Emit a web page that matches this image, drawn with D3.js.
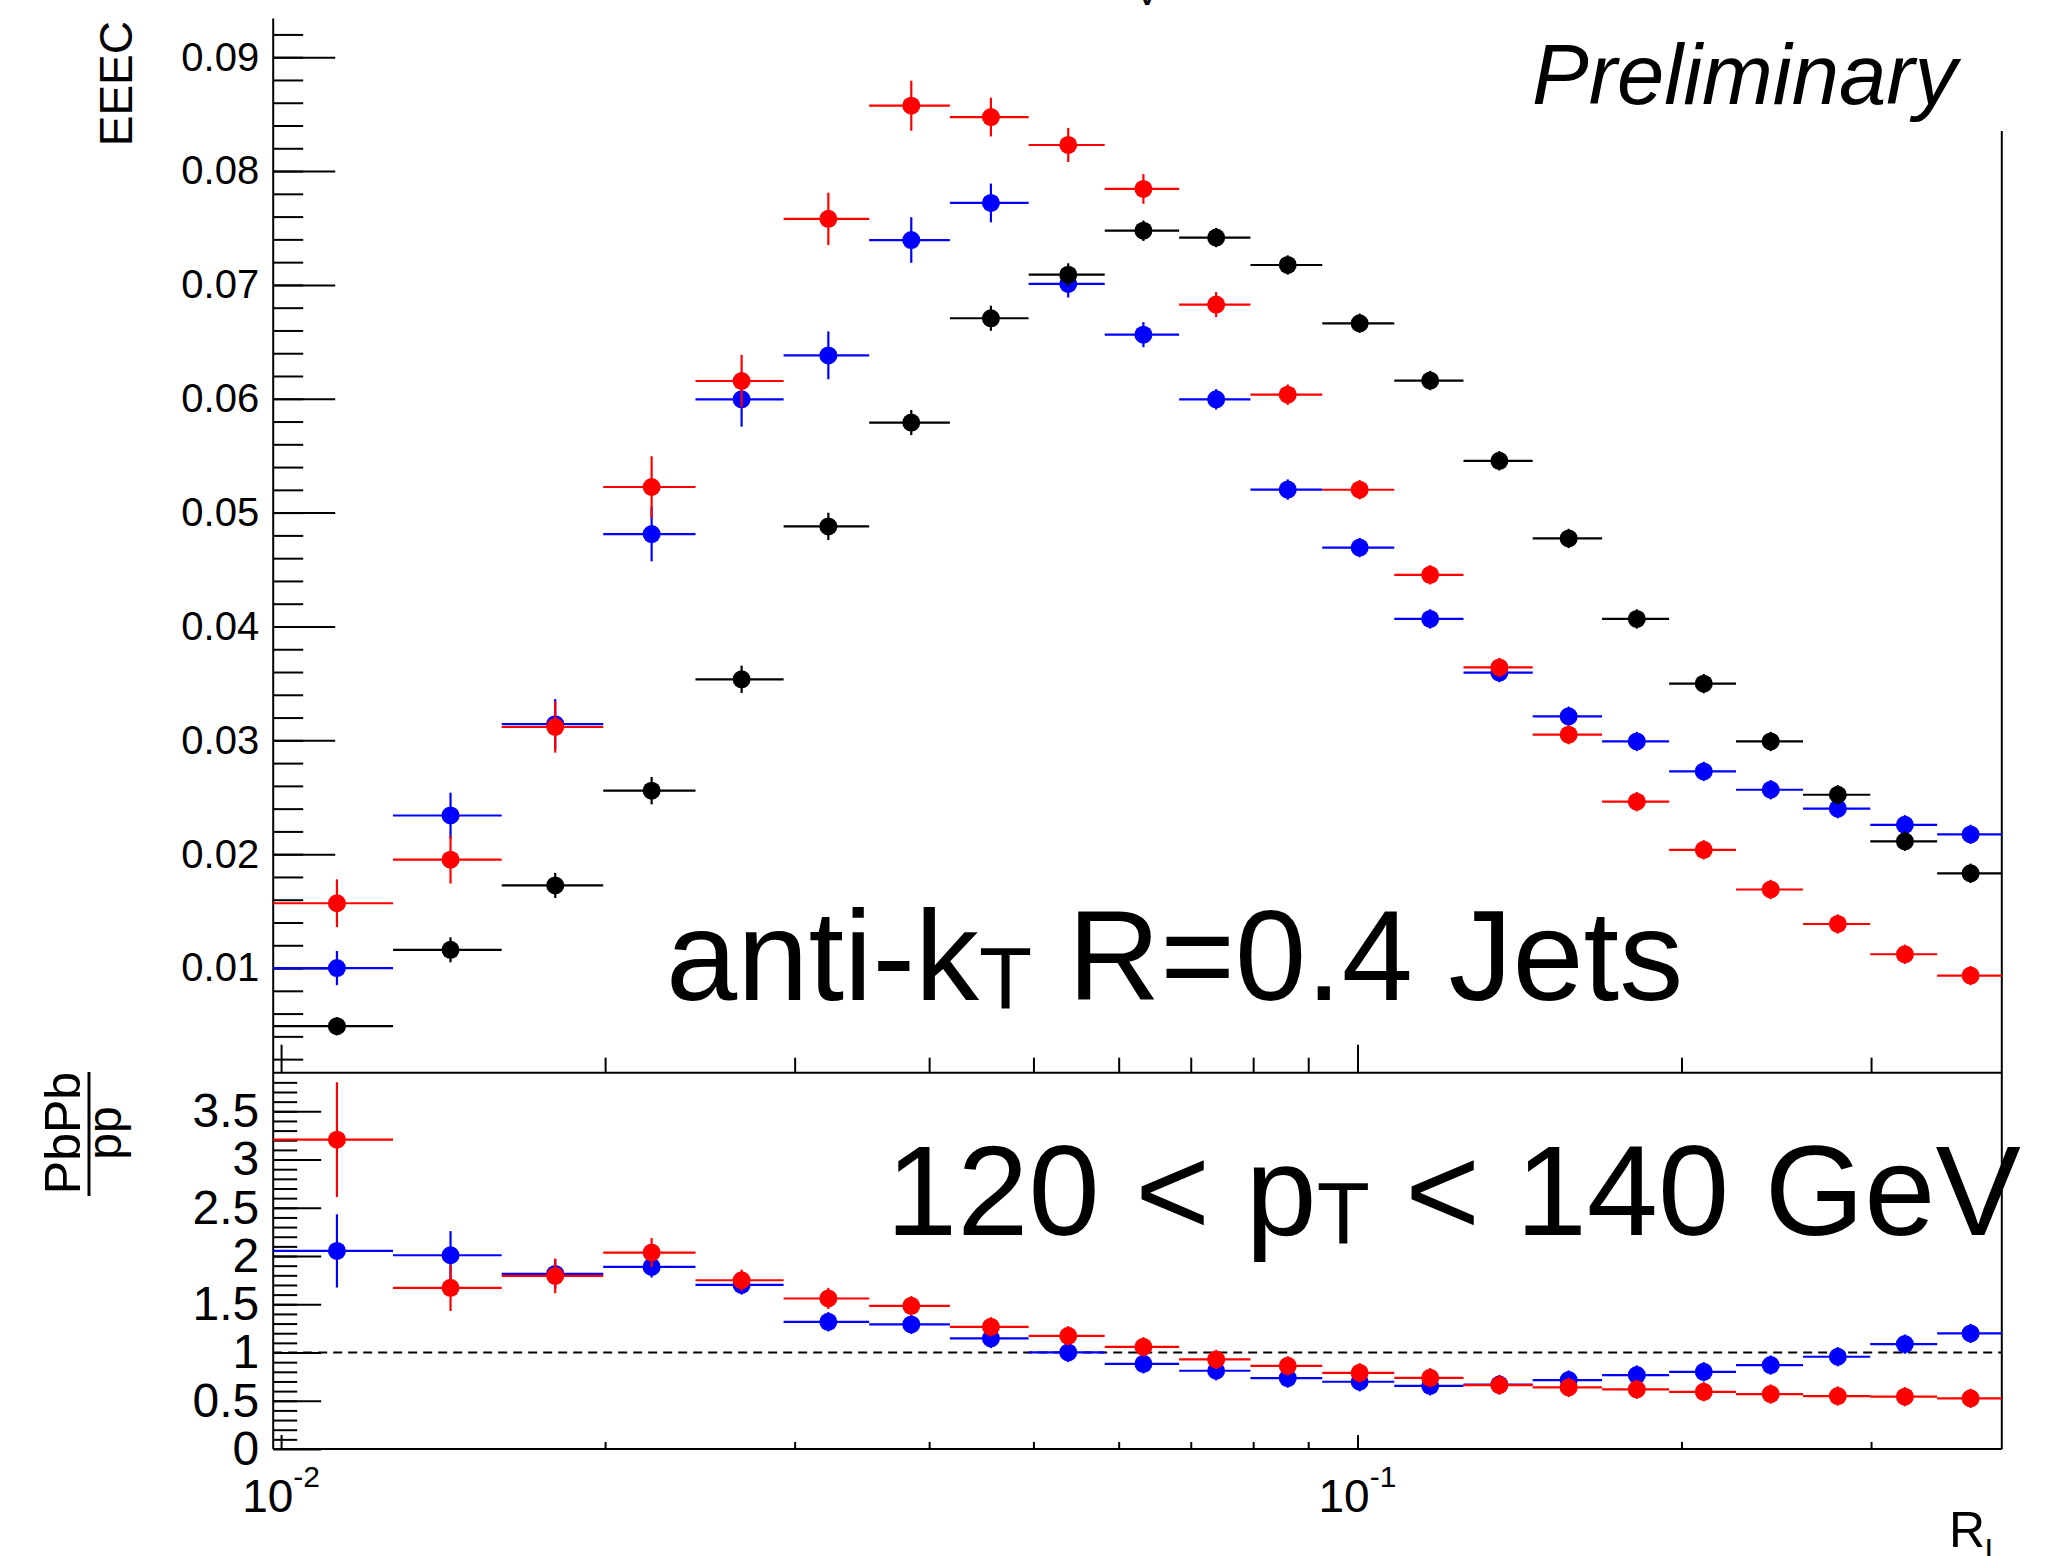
<!DOCTYPE html>
<html><head><meta charset="utf-8">
<script src="https://cdn.jsdelivr.net/npm/d3@7"></script>
<style>
body{margin:0;background:#fff}
svg{display:block}
text{font-family:"Liberation Sans",Arial,Helvetica,sans-serif;fill:#000}
</style>
</head><body>
<svg id="c" width="2064" height="1556"></svg>
<script>
// ---------------- DATA ----------------
const binEdges = [0.009833, 0.012706, 0.016032, 0.019920, 0.024266, 0.029300, 0.035185, 0.041816,
  0.049488, 0.058236, 0.068285, 0.079536, 0.092745, 0.10819, 0.12546, 0.14547, 0.16875, 0.19477,
  0.22472, 0.25937, 0.29949, 0.34557, 0.39682];

// EEEC, black series
const ppValues = [0.00489, 0.01160, 0.01726, 0.02558, 0.03536, 0.04879, 0.05791, 0.06707, 0.07090, 0.07476, 0.07416,
  0.07175, 0.06663, 0.06160, 0.05455, 0.04773, 0.04066, 0.03498, 0.02990, 0.02522, 0.02113, 0.01832];
const ppErrors = [0.0008, 0.0011, 0.0011, 0.0012, 0.0012, 0.0012, 0.0011, 0.0011, 0.0010, 0.0009, 0.00085,
  0.00085, 0.00085, 0.00085, 0.00085, 0.00085, 0.00085, 0.00085, 0.00085, 0.00085, 0.00085, 0.00085];
// EEEC, red series
const redValues = [0.01569, 0.01952, 0.03117, 0.05225, 0.06156, 0.07580, 0.08574, 0.08474, 0.08229, 0.07843, 0.06827,
  0.06036, 0.05201, 0.04454, 0.03640, 0.03050, 0.02461, 0.02038, 0.01690, 0.01387, 0.01121, 0.00934];
const redErrors = [0.0021, 0.0021, 0.00225, 0.0027, 0.0023, 0.0023, 0.0022, 0.0017, 0.0015, 0.0013, 0.0011,
  0.0009, 0.00085, 0.00085, 0.00085, 0.00085, 0.00085, 0.00085, 0.00085, 0.00085, 0.00085, 0.00085];
// EEEC, blue series
const blueValues = [0.01000, 0.02340, 0.03142, 0.04812, 0.05995, 0.06381, 0.07394, 0.07720, 0.07009, 0.06563, 0.05995,
  0.05202, 0.04693, 0.04066, 0.03595, 0.03211, 0.02990, 0.02727, 0.02566, 0.02400, 0.02258, 0.02174];
const blueErrors = [0.0015, 0.0020, 0.0022, 0.0024, 0.0024, 0.0021, 0.0020, 0.0017, 0.0012, 0.0011, 0.0009,
  0.0009, 0.00085, 0.00085, 0.00085, 0.00085, 0.00085, 0.00085, 0.00085, 0.00085, 0.00085, 0.00085];

// Ratio PbPb/pp
const ratioRed = [3.206, 1.670, 1.794, 2.036, 1.749, 1.560, 1.484, 1.266, 1.173, 1.059, 0.928,
  0.862, 0.790, 0.738, 0.663, 0.638, 0.618, 0.593, 0.569, 0.549, 0.542, 0.525];
const ratioRedErr = [0.595, 0.24, 0.18, 0.15, 0.11, 0.11, 0.10, 0.10, 0.10, 0.10, 0.10,
  0.10, 0.10, 0.10, 0.10, 0.10, 0.10, 0.10, 0.10, 0.10, 0.10, 0.10];
const ratioBlue = [2.053, 2.008, 1.815, 1.887, 1.700, 1.318, 1.291, 1.146, 1.001, 0.883, 0.811,
  0.735, 0.697, 0.655, 0.668, 0.714, 0.766, 0.800, 0.870, 0.956, 1.087, 1.198];
const ratioBlueErr = [0.38, 0.25, 0.15, 0.11, 0.10, 0.10, 0.10, 0.10, 0.10, 0.10, 0.10,
  0.10, 0.10, 0.10, 0.10, 0.10, 0.10, 0.10, 0.10, 0.10, 0.10, 0.10];

// Ticks
const eeecTickValues = [0.01, 0.02, 0.03, 0.04, 0.05, 0.06, 0.07, 0.08, 0.09];
const eeecTickLabels = ["0.01", "0.02", "0.03", "0.04", "0.05", "0.06", "0.07", "0.08", "0.09"];
const ratioTickValues = [0, 0.5, 1, 1.5, 2, 2.5, 3, 3.5];
const ratioTickLabels = ["0", "0.5", "1", "1.5", "2", "2.5", "3", "3.5"];
const xMajorTicks = [0.01, 0.1];
const xMajorBase = ["10", "10"];
const xMajorExp = ["-2", "-1"];
const xMinorTicks = [0.02, 0.03, 0.04, 0.05, 0.06, 0.07, 0.08, 0.09, 0.2, 0.3];

// ---------------- LAYOUT ----------------
const L = 273.2, R = 2001.8, topY = 18.6, midY = 1072.7, botY = 1449;
const svg = d3.select("#c");
svg.append("rect").attr("width", 2064).attr("height", 1556).attr("fill", "#fff");

const x = d3.scaleLog().domain([binEdges[0], binEdges[binEdges.length - 1]]).range([L, R]);
const yTop = d3.scaleLinear().domain([0.000808, 0.09339]).range([midY, topY]);
const yBot = d3.scaleLinear().domain([0, 3.9]).range([botY, midY]);

const eeecMinor = d3.range(1, 47).map(i => +(i * 0.002).toFixed(3));
const ratioMinor = d3.range(1, 39).map(i => +(i * 0.1).toFixed(1));

function styleAxis(g) {
  g.select(".domain").remove();
  g.selectAll("line").attr("stroke", "#000").attr("stroke-width", 2);
}

// Upper y axis
svg.append("g").attr("transform", `translate(${L},0)`)
  .call(d3.axisLeft(yTop).tickValues(eeecMinor).tickSize(-30).tickFormat("")).call(styleAxis);
svg.append("g").attr("transform", `translate(${L},0)`)
  .call(d3.axisLeft(yTop).tickValues(eeecTickValues).tickSize(-62).tickPadding(14)
    .tickFormat((d, i) => eeecTickLabels[i]))
  .call(styleAxis)
  .selectAll("text").attr("font-size", 40).attr("font-family", '"Liberation Sans",Arial,sans-serif');

// Lower y axis
svg.append("g").attr("transform", `translate(${L},0)`)
  .call(d3.axisLeft(yBot).tickValues(ratioMinor).tickSize(-24).tickFormat("")).call(styleAxis);
svg.append("g").attr("transform", `translate(${L},0)`)
  .call(d3.axisLeft(yBot).tickValues(ratioTickValues).tickSize(-48).tickPadding(14)
    .tickFormat((d, i) => ratioTickLabels[i]))
  .call(styleAxis)
  .selectAll("text").attr("font-size", 48).attr("font-family", '"Liberation Sans",Arial,sans-serif');

// X axes (ticks pointing up)
svg.append("g").attr("transform", `translate(0,${midY})`)
  .call(d3.axisBottom(x).tickValues(xMinorTicks).tickSize(-15).tickFormat("")).call(styleAxis);
svg.append("g").attr("transform", `translate(0,${midY})`)
  .call(d3.axisBottom(x).tickValues(xMajorTicks).tickSize(-28).tickFormat("")).call(styleAxis);
svg.append("g").attr("transform", `translate(0,${botY})`)
  .call(d3.axisBottom(x).tickValues(xMinorTicks).tickSize(-7).tickFormat("")).call(styleAxis);
svg.append("g").attr("transform", `translate(0,${botY})`)
  .call(d3.axisBottom(x).tickValues(xMajorTicks).tickSize(-14).tickFormat("")).call(styleAxis);

// x tick labels 10^-2, 10^-1
const xl = svg.append("g").selectAll("text").data(xMajorTicks).join("text")
  .attr("x", d => x(d)).attr("y", 1512).attr("text-anchor", "middle").attr("font-size", 46);
xl.append("tspan").text((d, i) => xMajorBase[i]);
xl.append("tspan").attr("dy", -25).attr("font-size", 30).text((d, i) => xMajorExp[i]);

// Frame
const frame = svg.append("g").attr("stroke", "#000").attr("stroke-width", 2);
frame.append("line").attr("x1", L).attr("x2", L).attr("y1", topY).attr("y2", botY);
frame.append("line").attr("x1", L).attr("x2", R).attr("y1", midY).attr("y2", midY);
frame.append("line").attr("x1", L).attr("x2", R).attr("y1", botY).attr("y2", botY);
frame.append("line").attr("x1", R).attr("x2", R).attr("y1", 131).attr("y2", botY);

// dashed line at ratio 1
svg.append("line").attr("x1", L).attr("x2", R).attr("y1", yBot(1)).attr("y2", yBot(1))
  .attr("stroke", "#000").attr("stroke-width", 2).attr("stroke-dasharray", "9,6");

// Series drawing
function drawSeries(yScale, values, errors, color) {
  const g = svg.append("g").attr("stroke", color).attr("fill", color);
  const d = values.map((v, i) => ({ v, e: errors[i], lo: binEdges[i], hi: binEdges[i + 1], c: (binEdges[i] + binEdges[i + 1]) / 2 }));
  g.selectAll("line.h").data(d).join("line").attr("class", "h")
    .attr("x1", p => x(p.lo)).attr("x2", p => x(p.hi))
    .attr("y1", p => yScale(p.v)).attr("y2", p => yScale(p.v)).attr("stroke-width", 2.2);
  g.selectAll("line.v").data(d).join("line").attr("class", "v")
    .attr("x1", p => x(p.c)).attr("x2", p => x(p.c))
    .attr("y1", p => yScale(p.v - p.e)).attr("y2", p => yScale(p.v + p.e)).attr("stroke-width", 2.2);
  g.selectAll("circle").data(d).join("circle")
    .attr("cx", p => x(p.c)).attr("cy", p => yScale(p.v)).attr("r", 9).attr("stroke", "none");
}
drawSeries(yTop, blueValues, blueErrors, "#0000ff");
drawSeries(yTop, ppValues, ppErrors, "#000000");
drawSeries(yTop, redValues, redErrors, "#ff0000");
drawSeries(yBot, ratioBlue, ratioBlueErr, "#0000ff");
drawSeries(yBot, ratioRed, ratioRedErr, "#ff0000");

// Axis titles
svg.append("text").attr("transform", "translate(131.7,21) rotate(-90)")
  .attr("text-anchor", "end").attr("font-size", 46).text("EEEC");
svg.append("text").attr("transform", "translate(80,1133) rotate(-90)")
  .attr("text-anchor", "middle").attr("font-size", 50).text("PbPb");
svg.append("text").attr("transform", "translate(121,1133) rotate(-90)")
  .attr("text-anchor", "middle").attr("font-size", 48).text("pp");
svg.append("line").attr("x1", 89).attr("x2", 89).attr("y1", 1072).attr("y2", 1196)
  .attr("stroke", "#000").attr("stroke-width", 3);
const rl = svg.append("text").attr("x", 1949).attr("y", 1547).attr("font-size", 50);
rl.append("tspan").text("R");
rl.append("tspan").attr("dy", 15.5).attr("font-size", 34).text("l");

// Annotations
svg.append("text").attr("x", 1147).attr("y", 5).attr("text-anchor", "middle").attr("font-size", 40).text("V");
svg.append("text").attr("x", 1532).attr("y", 103.6).attr("font-size", 85).attr("font-style", "italic").text("Preliminary");
const t1 = svg.append("text").attr("x", 666).attr("y", 1000).attr("font-size", 128);
t1.append("tspan").text("anti-k");
t1.append("tspan").attr("font-size", 87).attr("dy", 8).text("T");
t1.append("tspan").attr("dy", -8).text(" R=0.4 Jets");
const t2 = svg.append("text").attr("x", 886).attr("y", 1235).attr("font-size", 128);
t2.append("tspan").text("120 < p");
t2.append("tspan").attr("font-size", 87).attr("dy", 8).text("T");
t2.append("tspan").attr("dy", -8).text(" < 140 GeV");
</script>
</body></html>
